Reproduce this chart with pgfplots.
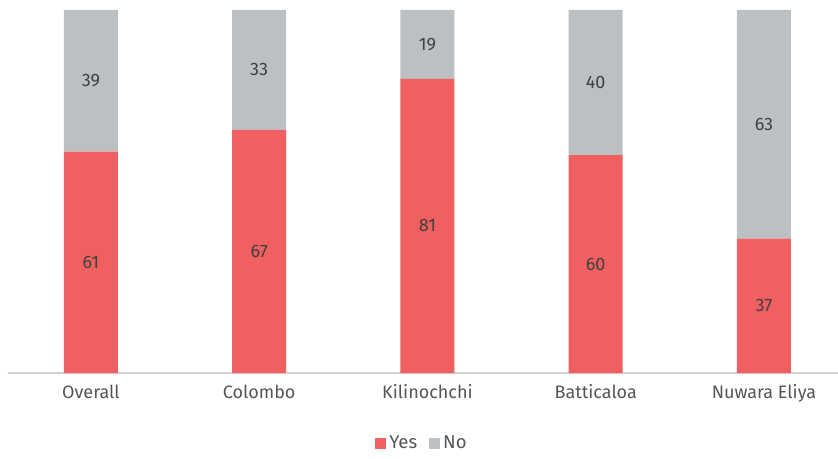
\documentclass[border=0pt]{standalone}
\usepackage{pgfplots}
\pgfplotsset{compat=1.18}
\usepackage{fontspec}
\setmainfont{Fira Sans}
\definecolor{yescol}{HTML}{F06060}
\definecolor{nocol}{HTML}{BDC0C3}
\definecolor{tickcol}{HTML}{555555}
\definecolor{labcol}{HTML}{404040}
\definecolor{axcol}{HTML}{D0D0D0}
\begin{document}
\begin{tikzpicture}[x=1pt,y=1pt]
\path[use as bounding box] (-8,-85) rectangle (830,373);
\begin{axis}[
  at={(0,0)}, anchor=south west,
  scale only axis, width=830pt, height=363pt,
  ybar stacked, bar width=54pt,
  xmin=-0.493, xmax=4.44, ymin=0, ymax=100,
  xtick=data,
  xticklabels={Overall,Colombo,Kilinochchi,Batticaloa,Nuwara Eliya},
  ytick=\empty,
  axis y line=none,
  axis x line*=bottom,
  x axis line style={draw=axcol, line width=1.5pt, -},
  major tick length=0pt,
  tick label style={font=\fontsize{18}{21}\selectfont, text=tickcol},
  xticklabel style={yshift=-8pt},
  legend columns=2,
  legend style={at={(0.5,0)}, anchor=center, xshift=-1pt, yshift=-70pt, draw=none,
    font=\fontsize{18.5}{21}\selectfont, text=tickcol,
    /tikz/every odd column/.append style={column sep=1pt},
    /tikz/every even column/.append style={column sep=10pt}},
  legend image code/.code={\fill[#1] (0pt,-5.5pt) rectangle (11pt,5.5pt);},
]
\addplot[fill=yescol, draw=none] coordinates {(0,61) (1,67) (2,81) (3,60) (4,37)};
\addplot[fill=nocol, draw=none] coordinates {(0,39) (1,33) (2,19) (3,40) (4,63)};
\legend{Yes,No}
\end{axis}
\begin{axis}[
  at={(0,0)}, anchor=south west,
  scale only axis, width=830pt, height=363pt,
  xmin=-0.493, xmax=4.44, ymin=0, ymax=100,
  axis lines=none, ticks=none,
  nodes near coords, point meta=explicit symbolic,
  every node near coord/.append style={anchor=center, font=\fontsize{18}{21}\selectfont, text=labcol},
]
\addplot[only marks, mark=none] coordinates {
  (0,30.5)[61] (1,33.5)[67] (2,40.5)[81] (3,30)[60] (4,18.5)[37]
  (0,80.5)[39] (1,83.5)[33] (2,90.5)[19] (3,80)[40] (4,68.5)[63]
};
\end{axis}
\end{tikzpicture}
\end{document}
